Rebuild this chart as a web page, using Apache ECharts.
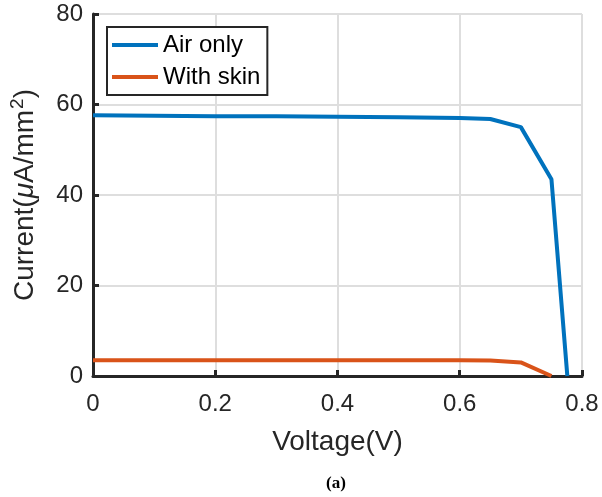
<!DOCTYPE html>
<html>
<head>
<meta charset="utf-8">
<script src="https://cdn.jsdelivr.net/npm/echarts@6/dist/echarts.min.js"></script>
<style>
html, body { margin: 0; padding: 0; background: #fff; }
#chart { width: 602px; height: 497px; }
</style>
</head>
<body>
<div id="chart"></div>
<script>
var voltage = [0, 0.1, 0.2, 0.3, 0.4, 0.5, 0.6, 0.65, 0.7, 0.75, 0.776];
var airOnly = [57.6, 57.5, 57.4, 57.4, 57.3, 57.2, 57.0, 56.8, 55.0, 43.5, 0];
var withSkin = [3.5, 3.5, 3.5, 3.5, 3.5, 3.5, 3.5, 3.4, 3.0, 0, null];
var seriesNames = ['Air only', 'With skin'];

function pairs(xs, ys) {
    var out = [];
    for (var i = 0; i < xs.length; i++) {
        if (ys[i] !== null) out.push([xs[i], ys[i]]);
    }
    return out;
}

var font = 'Liberation Sans, Arial, Helvetica, sans-serif';
var chart = echarts.init(document.getElementById('chart'));

var option = {
    animation: false,
    backgroundColor: '#fff',
    grid: {
        left: 91,
        right: 20,
        top: 14,
        bottom: 121
    },
    legend: {
        data: seriesNames,
        orient: 'vertical',
        left: 107,
        top: 27,
        icon: 'rect',
        itemWidth: 46,
        itemHeight: 4,
        itemGap: 8,
        padding: [6, 7, 6, 5],
        borderColor: '#262626',
        borderWidth: 2,
        backgroundColor: '#fff',
        textStyle: {
            fontFamily: font,
            fontSize: 24,
            color: '#000'
        }
    },
    xAxis: {
        type: 'value',
        min: 0,
        max: 0.8,
        interval: 0.2,
        name: 'Voltage(V)',
        nameLocation: 'middle',
        nameGap: 52,
        nameTextStyle: { fontFamily: font, fontSize: 28, color: '#262626' },
        axisLine: { lineStyle: { color: '#262626', width: 3 } },
        axisTick: { inside: true, length: 6, lineStyle: { color: '#262626', width: 3 } },
        axisLabel: { fontFamily: font, fontSize: 24, color: '#262626', margin: 16 },
        splitLine: { lineStyle: { color: '#dedede', width: 2 } }
    },
    yAxis: {
        type: 'value',
        min: 0,
        max: 80,
        interval: 20,
        name: '{n|Current(}{mu|μ}{n|A/mm}{sup|2}{n|)}',
        nameLocation: 'middle',
        nameGap: 50,
        nameTextStyle: {
            color: '#262626',
            rich: {
                n: { fontFamily: font, fontSize: 28, color: '#262626' },
                mu: { fontFamily: font, fontSize: 28, fontStyle: 'italic', color: '#262626' },
                sup: { fontFamily: font, fontSize: 19, color: '#262626', padding: [0, 0, 16, 1] }
            }
        },
        axisLine: { show: true, lineStyle: { color: '#262626', width: 3 } },
        axisTick: { show: true, inside: true, length: 6, lineStyle: { color: '#262626', width: 3 } },
        axisLabel: { fontFamily: font, fontSize: 24, color: '#262626', margin: 10 },
        splitLine: { lineStyle: { color: '#dedede', width: 2 } }
    },
    series: [
        {
            name: seriesNames[0],
            type: 'line',
            data: pairs(voltage, airOnly),
            showSymbol: false,
            color: '#0072BD',
            lineStyle: { width: 4, color: '#0072BD' },
            z: 3
        },
        {
            name: seriesNames[1],
            type: 'line',
            data: pairs(voltage, withSkin),
            showSymbol: false,
            color: '#D95319',
            lineStyle: { width: 4, color: '#D95319' },
            z: 2
        }
    ],
    graphic: [{
        type: 'text',
        x: 336,
        y: 484,
        style: {
            text: '(a)',
            font: 'bold 17px "Liberation Serif", "Times New Roman", serif',
            fill: '#000',
            align: 'center',
            verticalAlign: 'middle'
        }
    }]
};

chart.setOption(option);
</script>
</body>
</html>
